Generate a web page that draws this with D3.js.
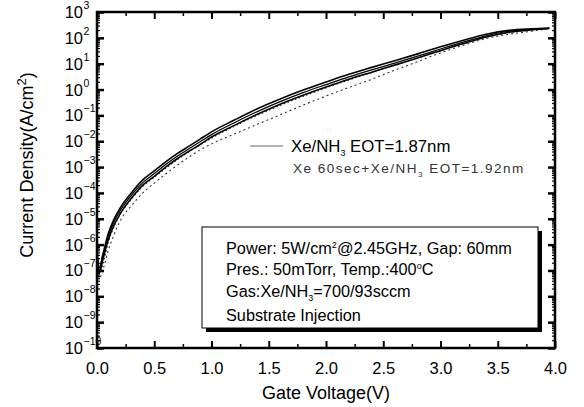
<!DOCTYPE html>
<html><head><meta charset="utf-8">
<script src="https://cdn.jsdelivr.net/npm/d3@7"></script>
<style>
body{margin:0;background:#fff;}
text{font-family:"Liberation Sans",Arial,sans-serif;fill:#000;}
</style></head>
<body><svg id="c" width="584" height="407"></svg>
<script>
const voltage = [0, 0.02, 0.05, 0.1, 0.15, 0.2, 0.3, 0.4, 0.5, 0.6, 0.7, 0.8, 0.9, 1.0, 1.2, 1.4, 1.6, 1.8, 2.0, 2.2, 2.4, 2.6, 2.8, 3.0, 3.2, 3.4, 3.6, 3.8, 3.95];
const solidA = [6.3e-7, 1.26e-7, 4.0e-7, 2.8e-6, 1.0e-5, 2.5e-5, 1.0e-4, 3.2e-4, 7.1e-4, 1.6e-3, 3.3e-3, 6.3e-3, 1.2e-2, 2.3e-2, 6.6e-2, 0.18, 0.43, 0.95, 1.95, 3.9, 7.2, 13, 24, 45, 81, 138, 195, 224, 240];
const solidB = [5e-7, 1.0e-7, 3.2e-7, 2.2e-6, 7.9e-6, 2.0e-5, 8.0e-5, 2.5e-4, 5.6e-4, 1.25e-3, 2.6e-3, 5.0e-3, 9.5e-3, 1.8e-2, 5.2e-2, 0.14, 0.34, 0.76, 1.55, 3.1, 5.8, 10.5, 19.5, 37, 68, 120, 180, 215, 235];
const solidC = [4e-7, 8e-8, 2.5e-7, 1.6e-6, 5.8e-6, 1.5e-5, 6.2e-5, 2.0e-4, 4.4e-4, 1.0e-3, 2.1e-3, 4.0e-3, 7.5e-3, 1.45e-2, 4.1e-2, 0.11, 0.27, 0.6, 1.25, 2.5, 4.7, 8.8, 16.5, 32, 60, 108, 165, 205, 230];
const dottedA = [1.6e-7, 5e-8, 1e-7, 6.3e-7, 2.5e-6, 7.9e-6, 3.2e-5, 1.0e-4, 2.4e-4, 5.4e-4, 1.17e-3, 2.4e-3, 4.6e-3, 7.9e-3, 1.9e-2, 4.5e-2, 0.105, 0.25, 0.56, 1.2, 2.5, 5.6, 12, 26, 52, 95, 138, 182, 229];
const dottedB = [2.5e-7, 7.9e-8, 1.6e-7, 1.26e-6, 5e-6, 1.4e-5, 5.6e-5, 1.8e-4, 4e-4, 8.9e-4, 1.9e-3, 3.8e-3, 7.2e-3, 1.3e-2, 3.8e-2, 0.1, 0.24, 0.54, 1.15, 2.35, 4.6, 8.9, 16.6, 32, 60, 107, 158, 200, 234];
const xTicks = [0, 0.5, 1.0, 1.5, 2.0, 2.5, 3.0, 3.5, 4.0];
const yExponents = [3, 2, 1, 0, -1, -2, -3, -4, -5, -6, -7, -8, -9, -10];

const svg = d3.select("#c");
const L = 97, R = 555, T = 12, B = 348;
const x = d3.scaleLinear().domain([0, 4]).range([L, R]);
const y = d3.scaleLog().domain([1e-10, 1e3]).range([B, T]);

// curves
const line = d3.line().x((d, i) => x(voltage[i])).y(d => y(d)).curve(d3.curveMonotoneX);
[dottedA, dottedB].forEach((s, k) => {
  svg.append("path").attr("d", line(s)).attr("fill", "none")
    .attr("stroke", "#333").attr("stroke-width", 1.1)
    .attr("stroke-dasharray", k === 0 ? "2,3" : "1.5,2.5");
});
[solidA, solidB, solidC].forEach((s, k) => {
  svg.append("path").attr("d", line(s)).attr("fill", "none")
    .attr("stroke", "#000").attr("stroke-width", k === 1 ? 1.2 : 1.6);
});

// frame
svg.append("rect").attr("x", L).attr("y", T).attr("width", R - L).attr("height", B - T)
  .attr("fill", "none").attr("stroke", "#000").attr("stroke-width", 2.5);

// x axes (inward ticks)
const xMinor = d3.range(0.25, 4, 0.5);
const axB = d3.axisBottom(x).tickValues(xTicks).tickSize(-7).tickFormat(d3.format(".1f")).tickPadding(14);
const gB = svg.append("g").attr("transform", `translate(0,${B})`).call(axB);
gB.select(".domain").remove();
gB.selectAll("line").attr("stroke-width", 2);
gB.selectAll("text").attr("font-size", 16.5).attr("font-family", "Liberation Sans, Arial, sans-serif");
const gBm = svg.append("g").attr("transform", `translate(0,${B})`).call(d3.axisBottom(x).tickValues(xMinor).tickSize(-4).tickFormat(""));
gBm.select(".domain").remove(); gBm.selectAll("line").attr("stroke-width", 1.5);
const gT = svg.append("g").attr("transform", `translate(0,${T})`).call(d3.axisTop(x).tickValues(xTicks).tickSize(-7).tickFormat(""));
gT.select(".domain").remove(); gT.selectAll("line").attr("stroke-width", 2);
const gTm = svg.append("g").attr("transform", `translate(0,${T})`).call(d3.axisTop(x).tickValues(xMinor).tickSize(-4).tickFormat(""));
gTm.select(".domain").remove(); gTm.selectAll("line").attr("stroke-width", 1.5);

// y axes
const yMajor = yExponents.map(e => Math.pow(10, e));
const yMinor = [];
yExponents.slice(1).forEach(e => { [2,3,4,5,6,7,8,9].forEach(m => yMinor.push(m * Math.pow(10, e))); });
const gL = svg.append("g").attr("transform", `translate(${L},0)`).call(d3.axisLeft(y).tickValues(yMajor).tickSize(-7).tickFormat(""));
gL.select(".domain").remove(); gL.selectAll("line").attr("stroke-width", 2.5);
const gLm = svg.append("g").attr("transform", `translate(${L},0)`).call(d3.axisLeft(y).tickValues(yMinor).tickSize(-3).tickFormat(""));
gLm.select(".domain").remove(); gLm.selectAll("line").attr("stroke-width", 1.2);
const gR = svg.append("g").attr("transform", `translate(${R},0)`).call(d3.axisRight(y).tickValues(yMajor).tickSize(-7).tickFormat(""));
gR.select(".domain").remove(); gR.selectAll("line").attr("stroke-width", 2.5);
const gRm = svg.append("g").attr("transform", `translate(${R},0)`).call(d3.axisRight(y).tickValues(yMinor).tickSize(-3).tickFormat(""));
gRm.select(".domain").remove(); gRm.selectAll("line").attr("stroke-width", 1.2);

// y tick labels 10^n
yExponents.forEach(e => {
  svg.append("text").attr("x", 83).attr("y", y(Math.pow(10, e)) + 6)
    .attr("text-anchor", "end").attr("font-size", 16.5).text("10");
  svg.append("text").attr("x", 83.5).attr("y", y(Math.pow(10, e)) - 3)
    .attr("text-anchor", "start").attr("font-size", 10.5).text(String(e).replace("-", "\u2212"));
});

// axis titles
svg.append("text").attr("x", x(2)).attr("y", 399).attr("text-anchor", "middle").attr("font-size", 18).text("Gate Voltage(V)");
const yt = svg.append("text").attr("transform", `translate(33,165) rotate(-90)`).attr("text-anchor", "middle").attr("font-size", 18);
yt.append("tspan").text("Current Density(A/cm");
yt.append("tspan").attr("dy", -7).attr("font-size", 13).text("2");
yt.append("tspan").attr("dy", 7).text(")");

// series legend
svg.append("line").attr("x1", 250).attr("x2", 283).attr("y1", 146).attr("y2", 146).attr("stroke", "#666").attr("stroke-width", 1);
const l1 = svg.append("text").attr("x", 291).attr("y", 152).attr("font-size", 16.8);
l1.append("tspan").text("Xe/NH");
l1.append("tspan").attr("dy", 4).attr("font-size", 9).text("3");
l1.append("tspan").attr("dy", -4).text(" EOT=1.87nm");
const l2 = svg.append("text").attr("x", 293).attr("y", 173).attr("font-size", 13.5).attr("letter-spacing", 1.5).style("fill", "#333");
l2.append("tspan").text("Xe 60sec+Xe/NH");
l2.append("tspan").attr("dy", 4).attr("font-size", 8).text("3");
l2.append("tspan").attr("dy", -4).text(" EOT=1.92nm");

// condition box with shadow
svg.append("rect").attr("x", 206).attr("y", 231).attr("width", 336).attr("height", 101).attr("fill", "#000");
svg.append("rect").attr("x", 202).attr("y", 227).attr("width", 336).attr("height", 101).attr("fill", "#fff").attr("stroke", "#000").attr("stroke-width", 1);
const info = [["Power: 5W/cm", "2", "@2.45GHz, Gap: 60mm", "sup"],
              ["Pres.: 50mTorr, Temp.:400", "o", "C", "sup"],
              ["Gas:Xe/NH", "3", "=700/93sccm", "sub"],
              ["Substrate Injection", "", "", ""]];
const infoY = [254, 275, 297, 321];
info.forEach((r, i) => {
  const t = svg.append("text").attr("x", 226).attr("y", infoY[i]).attr("font-size", 16.3);
  t.append("tspan").text(r[0]);
  if (r[1]) {
    const dy = r[3] === "sup" ? -6 : 4;
    t.append("tspan").attr("dy", dy).attr("font-size", 9).text(r[1]);
    t.append("tspan").attr("dy", -dy).text(r[2]);
  }
});
</script></body></html>
